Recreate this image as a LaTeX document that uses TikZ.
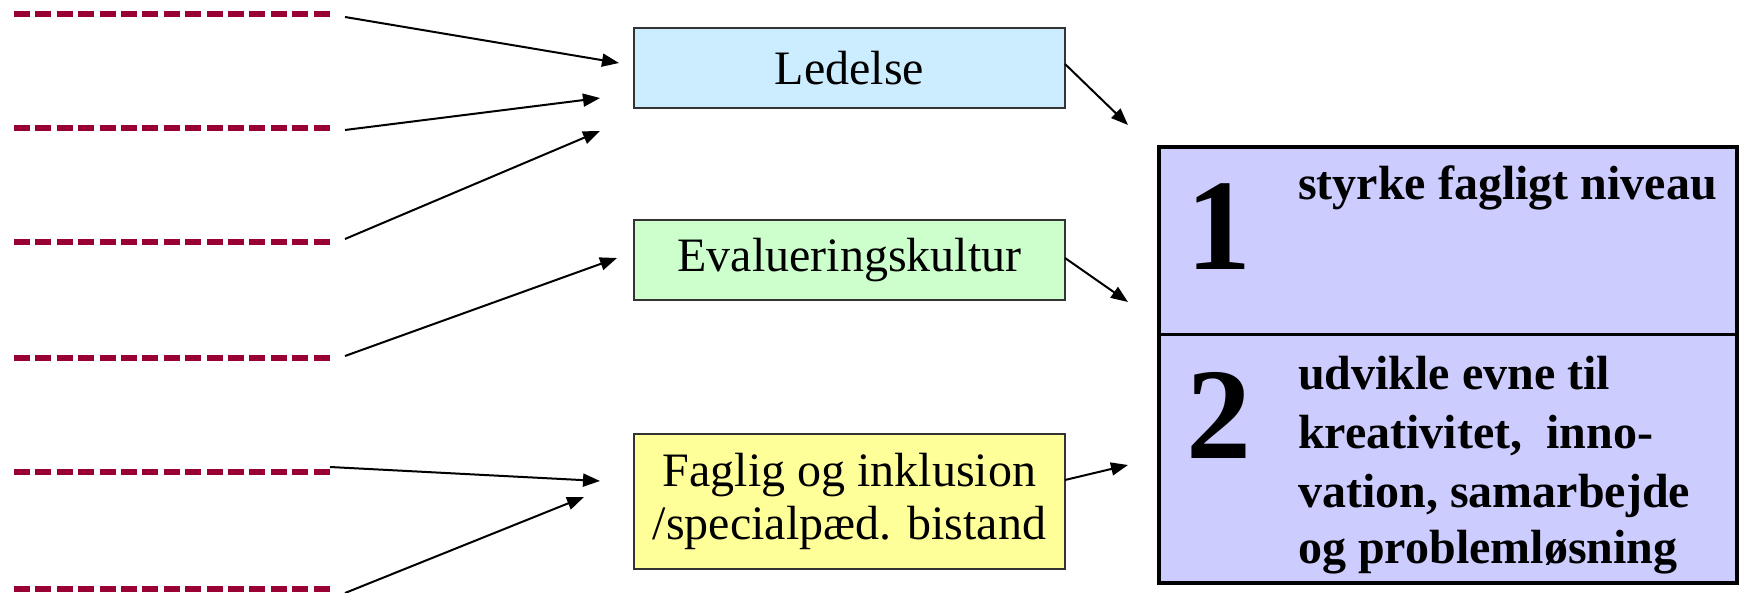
\documentclass[tikz,border=0pt]{standalone}
\usepackage{fontspec}
\setmainfont{Liberation Serif}
\usetikzlibrary{arrows.meta}
\definecolor{dashred}{HTML}{990033}
\definecolor{ledcol}{HTML}{CCECFF}
\definecolor{evalcol}{HTML}{CCFFCC}
\definecolor{fagcol}{HTML}{FFFF99}
\definecolor{goalcol}{HTML}{CCCCFF}
\begin{document}
\begin{tikzpicture}[x=1pt,y=-1pt,
  dashln/.style={dashred, line width=5.5pt, dash pattern=on 16pt off 5.4pt},
  arr/.style={-{Triangle[length=17pt,width=13pt]}, line width=2pt},
  boxA/.style={draw=black!80, line width=1.5pt, minimum width=431pt, align=center, inner sep=0pt, font=\fontsize{48}{53}\selectfont},
  goaltxt/.style={anchor=base west, inner sep=0pt, font=\fontsize{48}{57}\selectfont\bfseries},
  numtxt/.style={anchor=base, inner sep=0pt, font=\fontsize{130}{130}\selectfont\bfseries}]
\useasboundingbox (0,0) rectangle (1743,593);

% dashed lines
\foreach \i/\y in {1/14,2/128,3/242,4/358,5/472,6/589}{
  \coordinate (d\i a) at (14,\y);
  \coordinate (d\i b) at (330,\y);
  \draw[dashln] (d\i a) -- (d\i b);
}

% boxes
\node[boxA, fill=ledcol, minimum height=80pt] (led) at (849.5,68) {Ledelse};
\node[boxA, fill=evalcol, minimum height=80pt] (eval) at (849.5,260) {Evalueringskultur};
\node[boxA, fill=fagcol, minimum height=135pt] (fag) at (849.5,501.5) {Faglig og inklusion\\/specialpæd. bistand};

% goal box
\node[draw, line width=4pt, fill=goalcol, minimum width=578pt, minimum height=436pt, inner sep=0pt] (goal) at (1448,365) {};
\coordinate (divL) at (1159,335);
\coordinate (divR) at (1737,335);
\draw[line width=3pt] (divL) -- (divR);

\node[numtxt] (n1) at (1219,270) {1};
\node[numtxt] (n2) at (1219,458) {2};
\node[goaltxt] (g1) at (1298,200) {styrke fagligt niveau};
\node[goaltxt] (g2a) at (1298,390) {udvikle evne til};
\node[goaltxt] (g2b) at (1298,448) {kreativitet,~~inno-};
\node[goaltxt] (g2c) at (1298,507) {vation, samarbejde};
\node[goaltxt] (g2d) at (1298,563) {og problemløsning};

% arrow coordinates
\coordinate (a1s) at (345,17);  \coordinate (a1e) at (619,63);
\coordinate (a2s) at (345,130); \coordinate (a2e) at (600,98);
\coordinate (a3s) at (345,239); \coordinate (a3e) at (600,131);
\coordinate (a4s) at (345,356); \coordinate (a4e) at (617,258);
\coordinate (a5s) at (330,467); \coordinate (a5e) at (600,481);
\coordinate (a6s) at (345,593); \coordinate (a6e) at (584,497);
\coordinate (b1s) at (1065,64);  \coordinate (b1e) at (1128,125);
\coordinate (b2s) at (1065,258); \coordinate (b2e) at (1128,302);
\coordinate (b3s) at (1065,480); \coordinate (b3e) at (1128,465);

\draw[arr] (a1s) -- (a1e);
\draw[arr] (a2s) -- (a2e);
\draw[arr] (a3s) -- (a3e);
\draw[arr] (a4s) -- (a4e);
\draw[arr] (a5s) -- (a5e);
\draw[arr] (a6s) -- (a6e);
\draw[arr] (b1s) -- (b1e);
\draw[arr] (b2s) -- (b2e);
\draw[arr] (b3s) -- (b3e);
\end{tikzpicture}
\end{document}
